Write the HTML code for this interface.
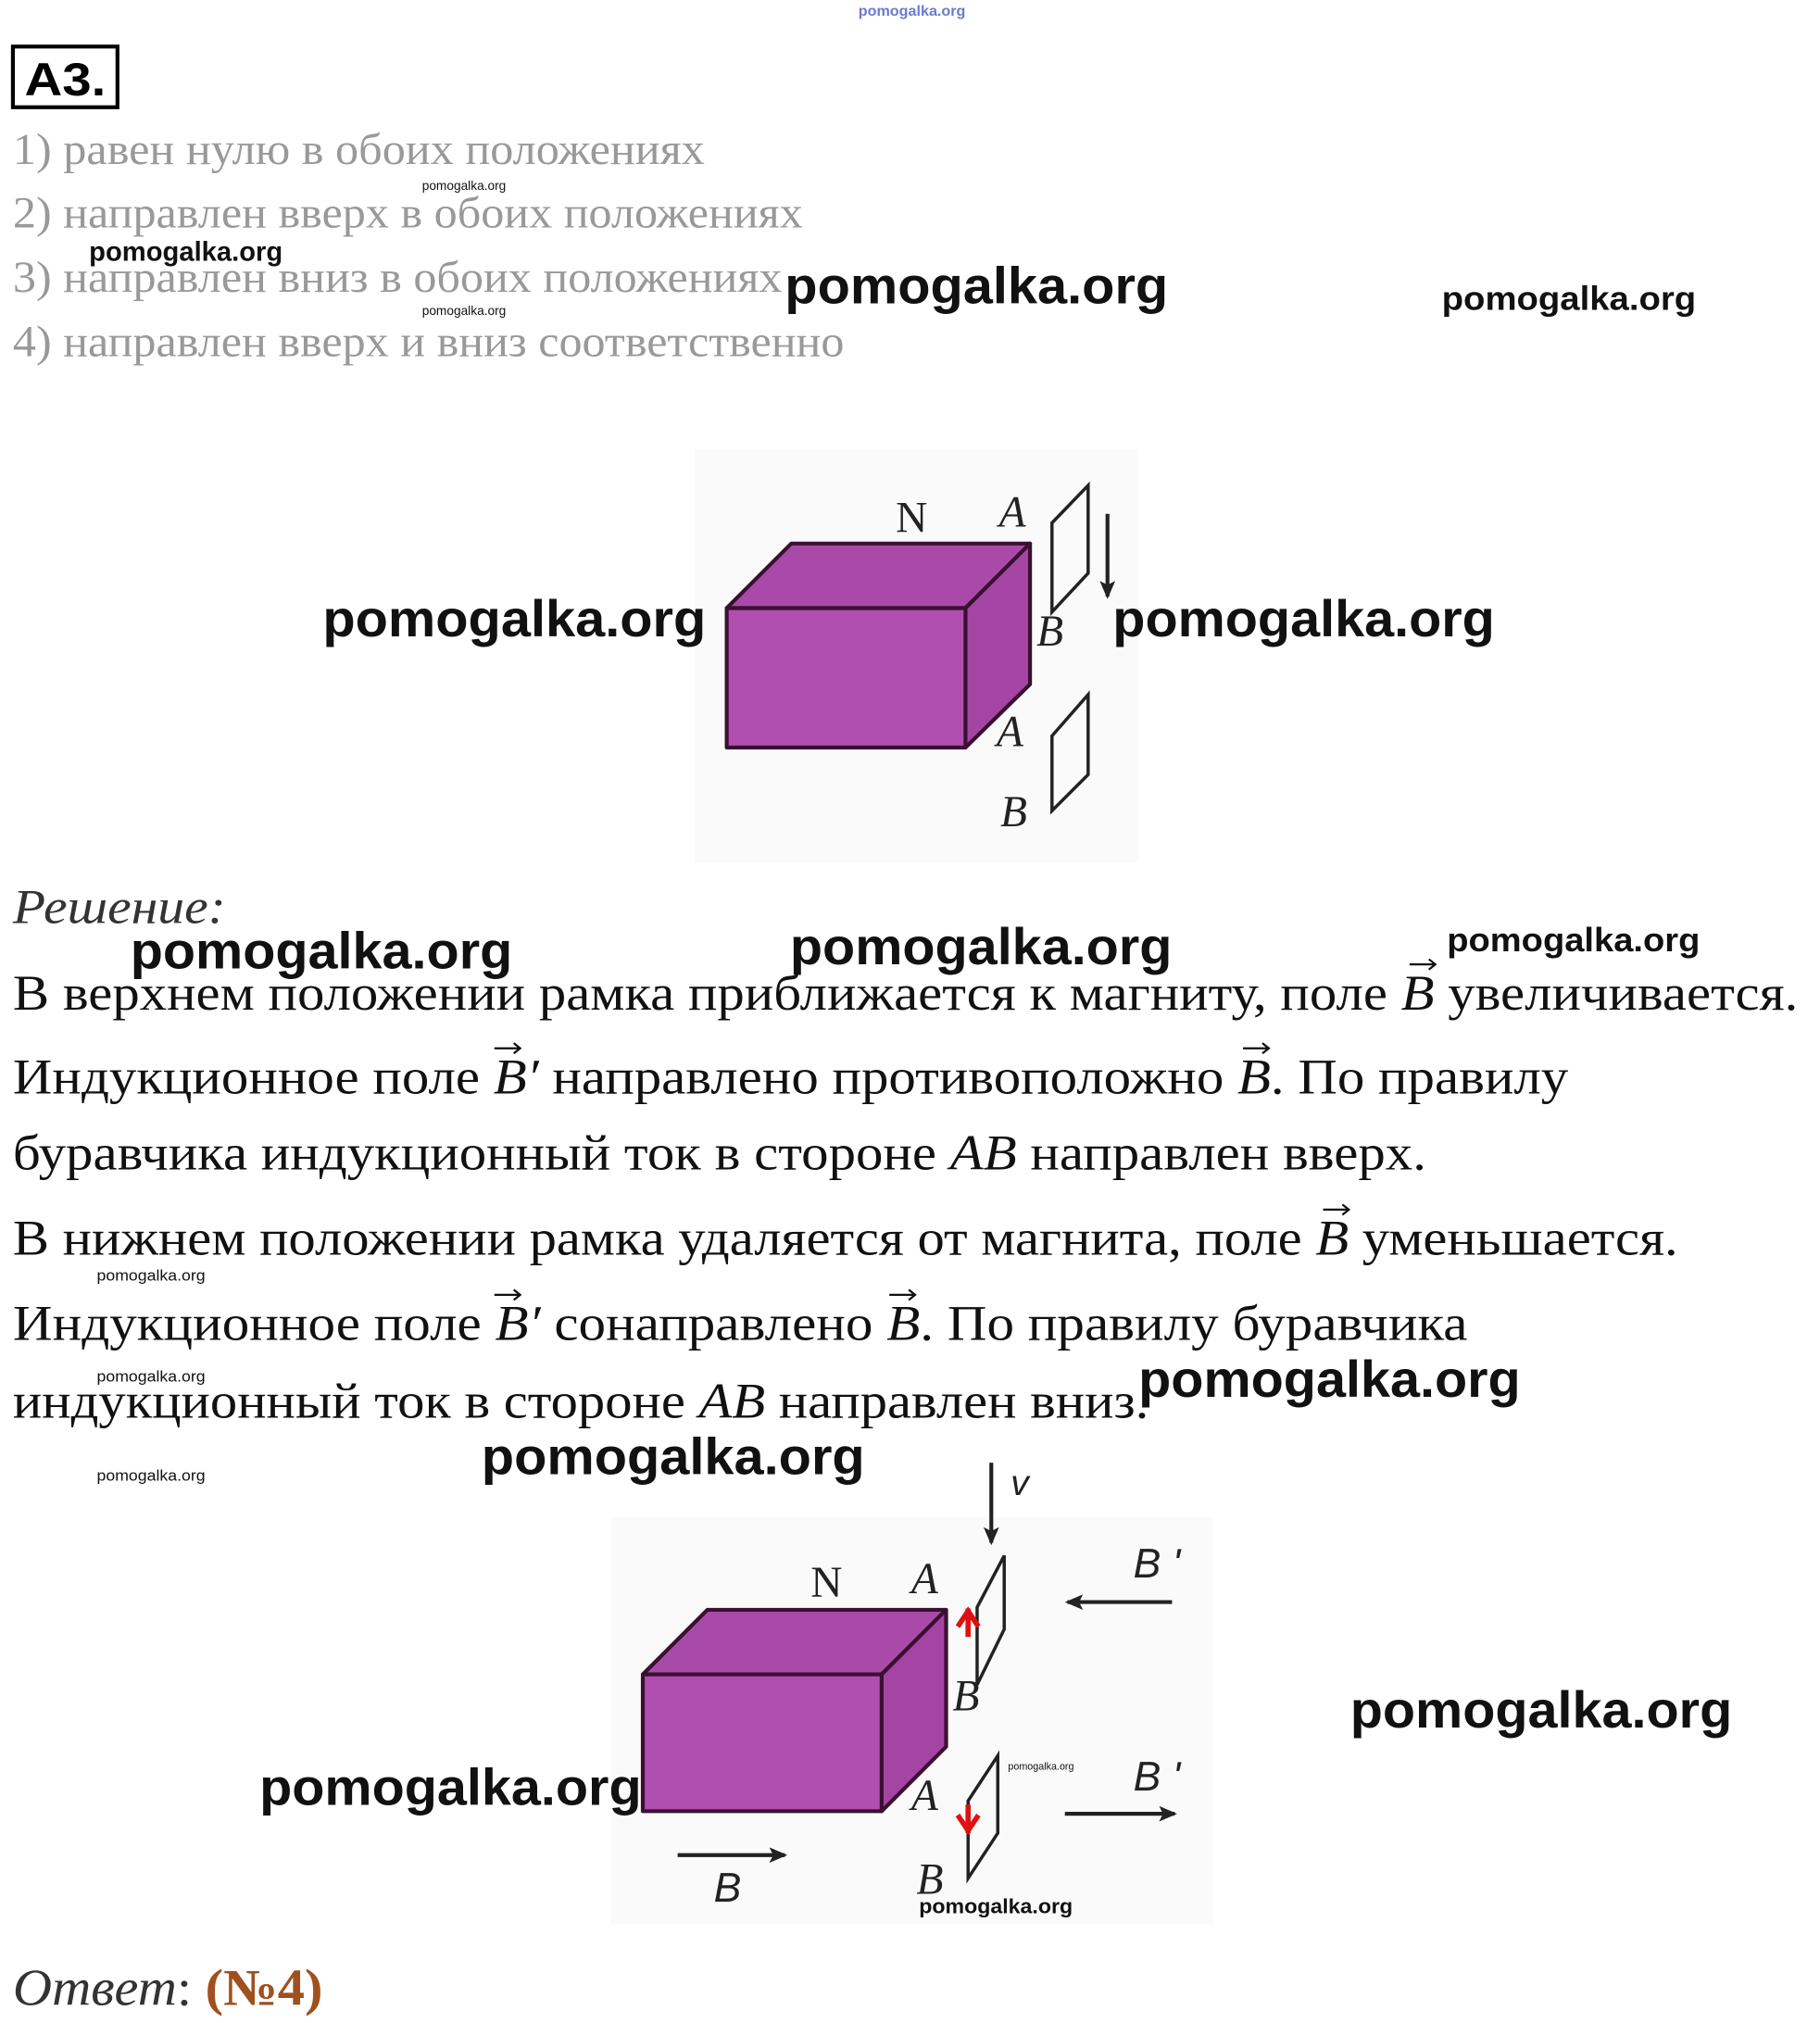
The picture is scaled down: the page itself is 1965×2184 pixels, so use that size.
<!DOCTYPE html>
<html><head><meta charset="utf-8"><style>html,body{margin:0;padding:0;background:#fff}svg{display:block}</style></head>
<body>
<svg width="1965" height="2184" viewBox="0 0 1410 1567" xmlns="http://www.w3.org/2000/svg">
<rect width="1410" height="1567" fill="#fff"/>
<defs>
<marker id="ahs" markerWidth="14" markerHeight="12" refX="12" refY="6" orient="auto" markerUnits="userSpaceOnUse"><path d="M0,0 L14,6 L0,12 L3,6 Z" fill="#222"/></marker>
</defs>
<g font-family="Liberation Sans, sans-serif" font-weight="bold" fill="#111">
<text x="665" y="12" font-size="11" textLength="83" lengthAdjust="spacingAndGlyphs" fill="#6a7bd0">pomogalka.org</text>
</g>
<rect x="10" y="36" width="81" height="47" fill="none" stroke="#000" stroke-width="3"/>
<text x="19" y="74" font-family="Liberation Sans, sans-serif" font-weight="bold" font-size="36" textLength="63" lengthAdjust="spacingAndGlyphs">А3.</text>
<g font-family="Liberation Serif, serif" font-size="34" fill="#999" lengthAdjust="spacingAndGlyphs">
<text x="10" y="127" textLength="536" lengthAdjust="spacingAndGlyphs">1) равен нулю в обоих положениях</text>
<text x="10" y="176" textLength="612" lengthAdjust="spacingAndGlyphs">2) направлен вверх в обоих положениях</text>
<text x="10" y="226" textLength="596" lengthAdjust="spacingAndGlyphs">3) направлен вниз в обоих положениях</text>
<text x="10" y="276" textLength="644" lengthAdjust="spacingAndGlyphs">4) направлен вверх и вниз соответственно</text>
</g>
<rect x="538" y="348" width="344" height="320" fill="#fafafa"/>
<g stroke="#3a1030" stroke-width="3" stroke-linejoin="round">
<polygon points="563,471 613,421 798,421 748,471" fill="#a94aa8"/>
<polygon points="748,471 798,421 798,530 748,579" fill="#a445a4"/>
<rect x="563" y="471" width="185" height="108" fill="#b04fb0"/>
</g>
<g font-family="Liberation Serif, serif" font-size="34" fill="#222">
<text x="694" y="412">N</text>
<text x="774" y="408" font-style="italic">A</text>
<text x="803" y="500" font-style="italic">B</text>
<text x="772" y="578" font-style="italic">A</text>
<text x="775" y="640" font-style="italic">B</text>
</g>
<g fill="none" stroke="#222" stroke-width="2.5">
<polygon points="815,405 843,376 843,444 815,474"/>
<polygon points="815,570 843,538 843,600 815,628"/>
</g>
<line x1="858" y1="398" x2="858" y2="462" stroke="#222" stroke-width="3" marker-end="url(#ahs)"/>
<text x="10" y="715" font-family="Liberation Serif, serif" font-style="italic" font-size="38" fill="#333" textLength="165" lengthAdjust="spacingAndGlyphs">Решение:</text>
<g font-family="Liberation Serif, serif" font-size="39" fill="#111">
<text x="10" y="782" textLength="1383" lengthAdjust="spacingAndGlyphs">В верхнем положении рамка приближается к магниту, поле <tspan font-style="italic">B</tspan> увеличивается.</text>
<text x="10" y="847" textLength="1205" lengthAdjust="spacingAndGlyphs">Индукционное поле <tspan font-style="italic">B′</tspan> направлено противоположно <tspan font-style="italic">B</tspan>. По правилу</text>
<text x="10" y="906" textLength="1095" lengthAdjust="spacingAndGlyphs">буравчика индукционный ток в стороне <tspan font-style="italic">AB</tspan> направлен вверх.</text>
<text x="10" y="972" textLength="1290" lengthAdjust="spacingAndGlyphs">В нижнем положении рамка удаляется от магнита, поле <tspan font-style="italic">B</tspan> уменьшается.</text>
<text x="10" y="1038" textLength="1127" lengthAdjust="spacingAndGlyphs">Индукционное поле <tspan font-style="italic">B′</tspan> сонаправлено <tspan font-style="italic">B</tspan>. По правилу буравчика</text>
<text x="10" y="1098" textLength="880" lengthAdjust="spacingAndGlyphs">индукционный ток в стороне <tspan font-style="italic">AB</tspan> направлен вниз.</text>
</g>
<g stroke="#111" stroke-width="1.6" fill="none">
<path d="M1092,747 h20 m-5,-4 l5,4 l-5,4"/>
<path d="M383,812 h20 m-5,-4 l5,4 l-5,4"/>
<path d="M963,812 h20 m-5,-4 l5,4 l-5,4"/>
<path d="M1025,937 h20 m-5,-4 l5,4 l-5,4"/>
<path d="M383,1003 h20 m-5,-4 l5,4 l-5,4"/>
<path d="M689,1003 h20 m-5,-4 l5,4 l-5,4"/>
</g>
<rect x="473" y="1175" width="467" height="315" fill="#fafafa"/>
<g stroke="#3a1030" stroke-width="3" stroke-linejoin="round">
<polygon points="498,1297 548,1247 733,1247 683,1297" fill="#a94aa8"/>
<polygon points="683,1297 733,1247 733,1353 683,1403" fill="#a445a4"/>
<rect x="498" y="1297" width="185" height="106" fill="#b04fb0"/>
</g>
<g font-family="Liberation Serif, serif" font-size="34" fill="#222">
<text x="628" y="1237">N</text>
<text x="706" y="1234" font-style="italic">A</text>
<text x="738" y="1325" font-style="italic">B</text>
<text x="706" y="1402" font-style="italic">A</text>
<text x="710" y="1467" font-style="italic">B</text>
</g>
<g font-family="Liberation Sans, sans-serif" font-style="italic" font-size="32" fill="#222">
<text x="783" y="1158" font-size="28">v</text>
<text x="878" y="1222">B '</text>
<text x="878" y="1387">B '</text>
<text x="553" y="1473">B</text>
</g>
<g fill="none" stroke="#222" stroke-width="2.5">
<polygon points="757,1245 778,1205 778,1262 757,1305"/>
<polygon points="750,1395 773,1360 773,1420 750,1455"/>
</g>
<g stroke="#222" stroke-width="3">
<line x1="768" y1="1133" x2="768" y2="1195" marker-end="url(#ahs)"/>
<line x1="908" y1="1241" x2="827" y2="1241" marker-end="url(#ahs)"/>
<line x1="825" y1="1405" x2="910" y2="1405" marker-end="url(#ahs)"/>
<line x1="525" y1="1437" x2="608" y2="1437" marker-end="url(#ahs)"/>
</g>
<g stroke="#e01010" stroke-width="4" fill="none">
<path d="M750,1268 v-22 M742,1260 l8,-12 l8,12"/>
<path d="M750,1398 v22 M742,1406 l8,12 l8,-12"/>
</g>
<text x="10" y="1553" font-family="Liberation Serif, serif" font-size="40" fill="#333" textLength="240" lengthAdjust="spacingAndGlyphs"><tspan font-style="italic">Ответ</tspan>: <tspan font-weight="bold" fill="#a0501e">(№4)</tspan></text>
<g font-family="Liberation Sans, sans-serif" font-weight="bold" fill="#111">
<text x="608" y="235" font-size="40" textLength="297" lengthAdjust="spacingAndGlyphs">pomogalka.org</text>
<text x="250" y="493" font-size="40" textLength="297" lengthAdjust="spacingAndGlyphs">pomogalka.org</text>
<text x="862" y="493" font-size="40" textLength="296" lengthAdjust="spacingAndGlyphs">pomogalka.org</text>
<text x="101" y="750" font-size="40" textLength="296" lengthAdjust="spacingAndGlyphs">pomogalka.org</text>
<text x="612" y="747" font-size="40" textLength="296" lengthAdjust="spacingAndGlyphs">pomogalka.org</text>
<text x="882" y="1082" font-size="40" textLength="296" lengthAdjust="spacingAndGlyphs">pomogalka.org</text>
<text x="373" y="1142" font-size="40" textLength="297" lengthAdjust="spacingAndGlyphs">pomogalka.org</text>
<text x="201" y="1398" font-size="40" textLength="296" lengthAdjust="spacingAndGlyphs">pomogalka.org</text>
<text x="1046" y="1338" font-size="40" textLength="296" lengthAdjust="spacingAndGlyphs">pomogalka.org</text>
<text x="1117" y="240" font-size="26" textLength="197" lengthAdjust="spacingAndGlyphs">pomogalka.org</text>
<text x="1121" y="737" font-size="26" textLength="196" lengthAdjust="spacingAndGlyphs">pomogalka.org</text>
<text x="69" y="202" font-size="21" textLength="150" lengthAdjust="spacingAndGlyphs">pomogalka.org</text>
<text x="712" y="1482" font-size="16" textLength="119" lengthAdjust="spacingAndGlyphs">pomogalka.org</text>
<g font-weight="normal" font-size="10">
<text x="327" y="147" textLength="65" lengthAdjust="spacingAndGlyphs">pomogalka.org</text>
<text x="327" y="244" textLength="65" lengthAdjust="spacingAndGlyphs">pomogalka.org</text>
<text x="75" y="992" font-size="12" textLength="84" lengthAdjust="spacingAndGlyphs">pomogalka.org</text>
<text x="75" y="1070" font-size="12" textLength="84" lengthAdjust="spacingAndGlyphs">pomogalka.org</text>
<text x="75" y="1147" font-size="12" textLength="84" lengthAdjust="spacingAndGlyphs">pomogalka.org</text>
<text x="781" y="1371" font-size="8" textLength="51" lengthAdjust="spacingAndGlyphs">pomogalka.org</text>
</g>
</g>
</svg>
</body></html>
